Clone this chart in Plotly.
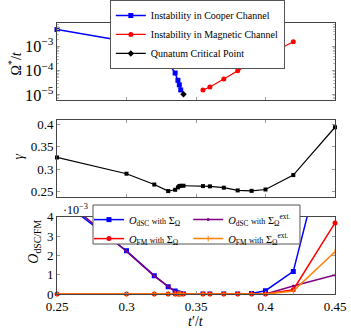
import plotly.graph_objects as go
from plotly.subplots import make_subplots

# top panel: instability scales
t_cooper = [0.25, 0.3, 0.32, 0.33, 0.335, 0.337, 0.338, 0.339]
omega_cooper = [5.0e-3, 1.6e-3, 6.2e-4, 2.2e-4, 8.0e-5, 4.0e-5, 2.6e-5, 1.6e-5]
t_magnetic = [0.355, 0.36, 0.37, 0.38, 0.39, 0.4, 0.42]
omega_magnetic = [1.58e-5, 2.1e-5, 4.5e-5, 1.0e-4, 2.15e-4, 3.95e-4, 1.57e-3]
t_qcp = [0.341]
omega_qcp = [1.07e-5]

# middle + bottom panels share this grid
t_all = [0.25, 0.3, 0.32, 0.33, 0.335, 0.337, 0.338, 0.339, 0.341,
         0.355, 0.36, 0.37, 0.38, 0.39, 0.4, 0.42, 0.45]
gamma = [0.326, 0.290, 0.266, 0.2515, 0.2544, 0.2596, 0.2625, 0.2633, 0.2633,
         0.2625, 0.262, 0.259, 0.253, 0.252, 0.255, 0.287, 0.393]

# order parameters in units of 1e-3
o_dsc = [5.0, 2.24, 0.95, 0.38, 0.15, 0.06, 0.02, 0.0, 0.0,
         0.0, 0.0, 0.0, 0.0, 0.03, 0.17, 1.17, 9.7]
o_dsc_ext = [5.2, 2.2, 0.93, 0.36, 0.12, 0.05, 0.02, 0.0, 0.0,
             0.0, 0.0, 0.0, 0.0, 0.0, 0.0, 0.41, 0.98]
o_fm = [0.0] * 15 + [0.22, 3.68]
o_fm_ext = [0.0] * 15 + [0.15, 2.19]

x_ticks = [0.25, 0.3, 0.35, 0.4, 0.45]
x_ticktext = ["0.25", "0.3", "0.35", "0.4", "0.45"]

BLUE = "#0000ff"
RED = "#ff0000"
PURPLE = "#800080"
ORANGE = "#ff8000"
FONT = "Liberation Serif"

fig = make_subplots(rows=3, cols=1)

# --- top panel
fig.add_trace(go.Scatter(
    x=t_cooper, y=omega_cooper, mode="lines+markers", name="Instability in Cooper Channel",
    line=dict(color=BLUE, width=1.5), marker=dict(symbol="square", size=5, color=BLUE),
    cliponaxis=False, legend="legend"), row=1, col=1)
fig.add_trace(go.Scatter(
    x=t_magnetic, y=omega_magnetic, mode="lines+markers", name="Instability in Magnetic Channel",
    line=dict(color=RED, width=1.2), marker=dict(symbol="circle", size=5, color=RED),
    cliponaxis=False, legend="legend"), row=1, col=1)
fig.add_trace(go.Scatter(
    x=t_qcp, y=omega_qcp, mode="lines+markers", name="Qunatum Critical Point",
    line=dict(color="black", width=1.2), marker=dict(symbol="diamond", size=5, color="black"),
    cliponaxis=False, legend="legend"), row=1, col=1)

# --- middle panel
fig.add_trace(go.Scatter(
    x=t_all, y=gamma, mode="lines+markers", showlegend=False,
    line=dict(color="black", width=1.2), marker=dict(symbol="square", size=4, color="black"),
    cliponaxis=False), row=2, col=1)

# --- bottom panel
with_small = "<span style='font-size:8px'>with</span>"
fig.add_trace(go.Scatter(
    x=t_all, y=o_dsc, mode="lines+markers",
    name=f"<i>O</i><sub>dSC</sub> {with_small} Σ<sub>Ω</sub>",
    line=dict(color=BLUE, width=1.5), marker=dict(symbol="square", size=5, color=BLUE),
    legend="legend2"), row=3, col=1)
fig.add_trace(go.Scatter(
    x=t_all, y=o_dsc_ext, mode="lines+markers",
    name=f"<i>O</i><sub>dSC</sub> {with_small} Σ<sub>Ω</sub><sup>ext.</sup>",
    line=dict(color=PURPLE, width=1.5), marker=dict(symbol="circle", size=3, color=PURPLE),
    legend="legend3"), row=3, col=1)
fig.add_trace(go.Scatter(
    x=t_all, y=o_fm, mode="lines+markers",
    name=f"<i>O</i><sub>FM</sub> {with_small} Σ<sub>Ω</sub>",
    line=dict(color=RED, width=1.5), marker=dict(symbol="circle", size=5, color=RED),
    cliponaxis=False, legend="legend2"), row=3, col=1)
fig.add_trace(go.Scatter(
    x=t_all, y=o_fm_ext, mode="lines+markers",
    name=f"<i>O</i><sub>FM</sub> {with_small} Σ<sub>Ω</sub><sup>ext.</sup>",
    line=dict(color=ORANGE, width=1.5),
    marker=dict(symbol="line-ns", size=4, color=ORANGE, line=dict(color=ORANGE, width=1)),
    cliponaxis=False, legend="legend3"), row=3, col=1)

axis_style = dict(showline=True, linecolor="#444", linewidth=1, mirror="ticks",
                  ticks="inside", ticklen=3, tickcolor="#999", showgrid=False,
                  zeroline=False, tickfont=dict(family=FONT, size=13, color="black"))

for r, dom in zip([1, 2, 3], [[0.716, 1.0], [0.359, 0.642], [0.0, 0.285]]):
    fig.update_xaxes(range=[0.25, 0.45], tickmode="array", tickvals=x_ticks,
                     ticktext=x_ticktext, showticklabels=(r == 3), row=r, col=1,
                     **axis_style)
    fig.update_yaxes(domain=dom, row=r, col=1, **axis_style)

fig.update_yaxes(type="log", range=[-5.21, -2.03], dtick=1, exponentformat="power",
                 minor=dict(ticks="inside", ticklen=2, tickcolor="#bbb"), row=1, col=1)
fig.update_yaxes(range=[0.239, 0.409], tickmode="array",
                 tickvals=[0.25, 0.3, 0.35, 0.4], ticktext=["0.25", "0.3", "0.35", "0.4"],
                 row=2, col=1)
fig.update_yaxes(range=[0, 4], tickmode="array", tickvals=[0, 1, 2, 3, 4], row=3, col=1)

fig.update_layout(
    width=351, height=334,
    margin=dict(l=57, r=16, t=23, b=40, autoexpand=False),
    plot_bgcolor="white", paper_bgcolor="white",
    font=dict(family=FONT, color="black"),
    legend=dict(x=0.19, y=1.085, xanchor="left", yanchor="top", bgcolor="white",
                bordercolor="#555", borderwidth=1, tracegroupgap=0,
                font=dict(family=FONT, size=10, color="black")),
    legend2=dict(x=0.115, y=0.328, xanchor="left", yanchor="top", bgcolor="rgba(0,0,0,0)",
                 font=dict(family=FONT, size=10.5, color="black"), tracegroupgap=0),
    legend3=dict(x=0.472, y=0.328, xanchor="left", yanchor="top", bgcolor="rgba(0,0,0,0)",
                 font=dict(family=FONT, size=10.5, color="black"), tracegroupgap=0),
)

# box behind the two-column legend of the bottom panel
fig.add_shape(type="rect", xref="paper", yref="paper", x0=0.1295, x1=0.874, y0=0.1845, y1=0.3284,
              fillcolor="white", line=dict(color="#555", width=1), layer="above")

# axis titles and the scale factor
title_font = dict(family=FONT, size=14, color="black")
fig.add_annotation(text="Ω<sup>*</sup>/<i>t</i>", xref="paper", yref="paper", x=-0.151, y=0.851,
                   xanchor="center", yanchor="middle", textangle=-90, showarrow=False,
                   font=title_font)
fig.add_annotation(text="<i>γ</i>", xref="paper", yref="paper", x=-0.137, y=0.507,
                   xanchor="center", yanchor="middle", textangle=-90, showarrow=False,
                   font=title_font)
fig.add_annotation(text="<i>O</i><sub>dSC/FM</sub>", xref="paper", yref="paper", x=-0.079, y=0.193,
                   xanchor="center", yanchor="middle", textangle=-90, showarrow=False,
                   font=title_font)
fig.add_annotation(text="<i>t</i>′/<i>t</i>", xref="paper", yref="paper", x=0.5, y=-0.102,
                   xanchor="center", yanchor="middle", showarrow=False, font=title_font)
fig.add_annotation(text="·10<sup>−3</sup>", xref="paper", yref="paper", x=0.015, y=0.31,
                   xanchor="left", yanchor="middle", showarrow=False,
                   font=dict(family=FONT, size=12, color="black"))

fig.write_html("out.html", config={"displayModeBar": False},
               post_script="document.body.style.margin = '0';")
